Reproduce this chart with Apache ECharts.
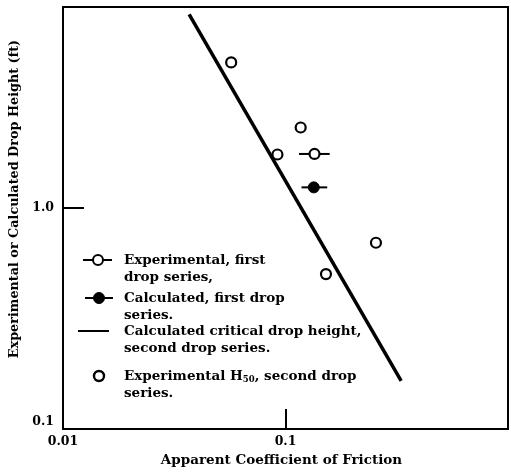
<!DOCTYPE html>
<html>
<head>
<meta charset="utf-8">
<script src="https://cdn.jsdelivr.net/npm/echarts@6/dist/echarts.min.js"></script>
<style>html,body{margin:0;padding:0;background:#fff}#c{width:511px;height:472px}</style>
</head>
<body>
<div id="c"></div>
<script>
// ---- data ----
var xRange = [0.01, 1];
var yRange = [0.1, 8];
var xTickLabels = {"0.01": "0.01", "0.1": "0.1"};
var yTickLabels = {"0.1": "0.1", "1": "1.0"};

// Experimental, first drop series (open circle with horizontal bar)
var expFirstX = [0.135];
var expFirstY = [1.74];
var expFirstLo = [0.115];
var expFirstHi = [0.158];

// Calculated, first drop series (filled circle with bar)
var calcFirstX = [0.134];
var calcFirstY = [1.23];
var calcFirstLo = [0.118];
var calcFirstHi = [0.154];

// Calculated critical drop height, second drop series (line)
var critX = [0.0369, 0.331];
var critY = [7.41, 0.165];

// Experimental H50, second drop series (open circles)
var expSecondX = [0.057, 0.117, 0.092, 0.255, 0.152];
var expSecondY = [4.5, 2.29, 1.73, 0.692, 0.50];

var legendLines = [
  ["Experimental, first", "drop series,"],
  ["Calculated, first drop", "series."],
  ["Calculated critical drop height,", "second drop series."],
  ["Experimental H50, second drop", "series."]
];

// ---- build ----
var FONT = "DejaVu Serif";
function zip(a, b) { return a.map(function (v, i) { return [v, b[i]]; }); }
function barData(lo, hi, y) { return lo.map(function (v, i) { return [v, hi[i], y[i]]; }); }
function barRender(params, api) {
  var a = api.coord([api.value(0), api.value(2)]);
  var b = api.coord([api.value(1), api.value(2)]);
  return { type: 'line', shape: { x1: a[0], y1: a[1], x2: b[0], y2: b[1] }, style: { stroke: '#000', lineWidth: 2 } };
}
function fmtKey(v) { return String(+parseFloat(v).toPrecision(6)); }

var chart = echarts.init(document.getElementById('c'), null, { renderer: 'canvas' });

var LFS = 13.5;
var textStyle = { fontFamily: FONT, fontWeight: 'bold', fontSize: LFS, fill: '#000', verticalAlign: 'middle' };
var lx = 124, ly = [260, 298, 331, 376], lh = 17;
var G = [];
// symbols
G.push({ type: 'line', shape: { x1: 83, y1: ly[0], x2: 112, y2: ly[0] }, style: { stroke: '#000', lineWidth: 2 } });
G.push({ type: 'circle', shape: { cx: 98, cy: ly[0], r: 5 }, style: { fill: '#fff', stroke: '#000', lineWidth: 2 } });
G.push({ type: 'line', shape: { x1: 85, y1: ly[1], x2: 113, y2: ly[1] }, style: { stroke: '#000', lineWidth: 2 } });
G.push({ type: 'circle', shape: { cx: 99, cy: ly[1], r: 5.5 }, style: { fill: '#000', stroke: '#000', lineWidth: 1 } });
G.push({ type: 'line', shape: { x1: 78, y1: ly[2], x2: 109, y2: ly[2] }, style: { stroke: '#000', lineWidth: 2 } });
G.push({ type: 'circle', shape: { cx: 99, cy: ly[3], r: 5 }, style: { fill: '#fff', stroke: '#000', lineWidth: 2.4 } });
// texts
legendLines.forEach(function (pair, i) {
  var first = pair[0];
  if (first.indexOf('H50') >= 0) {
    var parts = first.split('H50');
    G.push({
      type: 'text', x: lx, y: ly[i],
      style: {
        text: '{a|' + parts[0] + 'H}{s|50}{a|' + parts[1] + '}',
        verticalAlign: 'middle',
        rich: {
          a: { fontFamily: FONT, fontWeight: 'bold', fontSize: LFS, fill: '#000', verticalAlign: 'bottom', height: 15 },
          s: { fontFamily: FONT, fontWeight: 'bold', fontSize: 8.5, fill: '#000', verticalAlign: 'bottom', height: 15, padding: [0, 0, -4, 0] }
        }
      }
    });
  } else {
    G.push({ type: 'text', x: lx, y: ly[i], style: Object.assign({ text: first }, textStyle) });
  }
  G.push({ type: 'text', x: lx, y: ly[i] + lh, style: Object.assign({ text: pair[1] }, textStyle) });
});

var option = {
  animation: false,
  backgroundColor: '#fff',
  grid: { left: 63, right: 2, top: 7, bottom: 41, show: true, borderColor: '#000', borderWidth: 2, backgroundColor: 'transparent' },
  xAxis: {
    type: 'log', logBase: 10, min: xRange[0], max: xRange[1],
    name: 'Apparent Coefficient of Friction', nameLocation: 'middle', nameGap: 20,
    nameTextStyle: { fontFamily: FONT, fontWeight: 'bold', fontSize: 13.5, color: '#000', padding: [0, 8, 0, 0] },
    axisLine: { lineStyle: { color: '#000', width: 2 } },
    axisTick: { inside: true, length: 20, lineStyle: { color: '#000', width: 2 } },
    minorTick: { show: false },
    splitLine: { show: false },
    axisLabel: {
      fontFamily: FONT, fontWeight: 'bold', fontSize: 12.5, color: '#000', margin: 6,
      formatter: function (v) { return xTickLabels[fmtKey(v)] || ''; }
    }
  },
  yAxis: {
    type: 'log', logBase: 10, min: yRange[0], max: yRange[1],
    name: 'Experimental or Calculated Drop Height (ft)', nameLocation: 'middle', nameGap: 33, nameRotate: 90,
    nameTextStyle: { fontFamily: FONT, fontWeight: 'bold', fontSize: 12.8, color: '#000', padding: [0, 0, 0, 38] },
    axisLine: { lineStyle: { color: '#000', width: 2 } },
    axisTick: { inside: true, length: 21, lineStyle: { color: '#000', width: 2 } },
    minorTick: { show: false },
    splitLine: { show: false },
    axisLabel: {
      fontFamily: FONT, fontWeight: 'bold', fontSize: 12.5, color: '#000', margin: 9,
      formatter: function (v) {
        var k = fmtKey(v);
        if (k === '0.1') return '{lo|' + yTickLabels[k] + '}';
        return yTickLabels[k] || '';
      },
      rich: { lo: { fontFamily: FONT, fontWeight: 'bold', fontSize: 12.5, color: '#000', padding: [0, 0, 14, 0] } }
    }
  },
  graphic: G,
  series: [
    { name: 'Calculated critical drop height, second drop series.', type: 'line', data: zip(critX, critY), showSymbol: false, symbol: 'none',
      lineStyle: { color: '#000', width: 3.5 }, z: 2 },
    { type: 'custom', renderItem: barRender, data: barData(expFirstLo, expFirstHi, expFirstY), z: 3 },
    { type: 'custom', renderItem: barRender, data: barData(calcFirstLo, calcFirstHi, calcFirstY), z: 3 },
    { name: 'Experimental, first drop series.', type: 'scatter', data: zip(expFirstX, expFirstY), symbol: 'circle', symbolSize: 10,
      itemStyle: { color: '#fff', borderColor: '#000', borderWidth: 2.2, opacity: 1 }, z: 4 },
    { name: 'Calculated, first drop series.', type: 'scatter', data: zip(calcFirstX, calcFirstY), symbol: 'circle', symbolSize: 11,
      itemStyle: { color: '#000', borderColor: '#000', borderWidth: 1, opacity: 1 }, z: 4 },
    { name: 'Experimental H50, second drop series.', type: 'scatter', data: zip(expSecondX, expSecondY), symbol: 'circle', symbolSize: 10,
      itemStyle: { color: '#fff', borderColor: '#000', borderWidth: 2.2, opacity: 1 }, z: 4 }
  ]
};
chart.setOption(option);
</script>
</body>
</html>
